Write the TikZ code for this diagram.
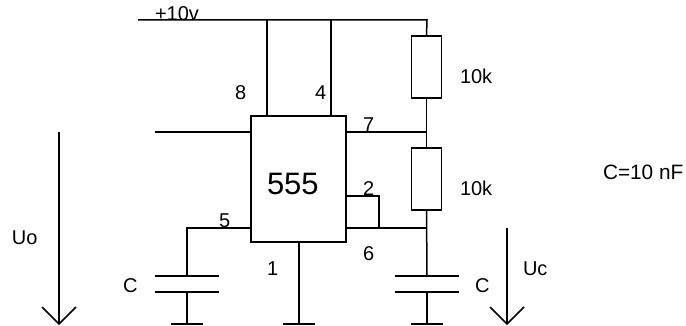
\documentclass[tikz,border=0pt]{standalone}
\usepackage{fontspec}
\setmainfont{Liberation Sans}
\tikzset{
  wire/.style={line width=1.5pt,line cap=butt},
  chip/.style={draw,line width=1.5pt,minimum width=95pt,minimum height=126pt,inner sep=0pt,outer sep=0pt,anchor=north west},
  resistor/.style={draw,line width=1.5pt,minimum width=30pt,minimum height=62pt,inner sep=0pt,outer sep=0pt},
  lbl/.style={anchor=base west,inner sep=0pt,outer sep=0pt,font=\fontsize{20pt}{22pt}\selectfont},
  widelbl/.style={anchor=base west,inner sep=0pt,outer sep=0pt,font=\fontsize{20.8pt}{22pt}\selectfont},
  biglbl/.style={anchor=base west,inner sep=0pt,outer sep=0pt,font=\fontsize{31pt}{33pt}\selectfont},
  volt/.style={line width=1.5pt},
}
\begin{document}
\begin{tikzpicture}[x=1pt,y=-1pt]
\useasboundingbox (0,0) rectangle (686,326);
% components
\node[chip] (ic) at (251,116) {};
\node[resistor] (r1) at (426.5,67) {};
\node[resistor] (r2) at (426.5,179) {};
% junctions and free ends
\coordinate (railL) at (138,20);
\coordinate (railR) at (427,20);
\coordinate (pin8top) at (267,20);
\coordinate (pin4top) at (331,20);
\coordinate (pin8) at (267,116);
\coordinate (pin4) at (331,116);
\coordinate (inL) at (155,132);
\coordinate (inR) at (251,132);
\coordinate (j7) at (427,132);
\coordinate (o7) at (346,132);
\coordinate (j6) at (427,228);
\coordinate (o6) at (346,228);
\coordinate (o2) at (346,196);
\coordinate (c2) at (379,196);
\coordinate (j2) at (379,228);
\coordinate (o5) at (251,228);
\coordinate (c5) at (187,228);
\coordinate (p1a) at (155,276);
\coordinate (p1b) at (219,276);
\coordinate (p1c) at (155,292);
\coordinate (p1d) at (219,292);
\coordinate (t1) at (187,276);
\coordinate (b1) at (187,292);
\coordinate (g1) at (187,324);
\coordinate (g1a) at (171,324);
\coordinate (g1b) at (203,324);
\coordinate (o1) at (299,242);
\coordinate (g2) at (299,324);
\coordinate (g2a) at (283,324);
\coordinate (g2b) at (315,324);
\coordinate (p2a) at (395,276);
\coordinate (p2b) at (459,276);
\coordinate (p2c) at (395,292);
\coordinate (p2d) at (459,292);
\coordinate (t2) at (427,276);
\coordinate (b2) at (427,292);
\coordinate (g3) at (427,324);
\coordinate (g3a) at (411,324);
\coordinate (g3b) at (443,324);
\coordinate (uoT) at (59,132);
\coordinate (uoB) at (59,324);
\coordinate (uoL) at (42,307);
\coordinate (uoR) at (76,307);
\coordinate (ucT) at (507,228);
\coordinate (ucB) at (507,324);
\coordinate (ucL) at (490,307);
\coordinate (ucR) at (524,307);
% labels
\node[lbl] (tv) at (155,21) {+10v};
\node[lbl] (t8) at (235,100) {8};
\node[lbl] (t4) at (315,100) {4};
\node[lbl] (t7) at (363,132) {7};
\node[lbl] (t2l) at (363,196) {2};
\node[lbl] (t6) at (363,260) {6};
\node[lbl] (t5) at (219,228) {5};
\node[lbl] (t1l) at (267,276) {1};
\node[biglbl] (tic) at (267,195) {555};
\node[lbl] (tr1) at (460,84) {10k};
\node[lbl] (tr2) at (460,196) {10k};
\node[lbl] (tuo) at (12,244) {Uo};
\node[lbl] (tc1) at (123,292) {C};
\node[lbl] (tc2) at (475,292) {C};
\node[lbl] (tuc) at (523,276) {Uc};
\node[widelbl] (tcv) at (603,180) {C=10 nF};
% wiring
\draw[wire,line join=miter] (railL) -- (railR) -- (r1.north);
\draw[wire] (pin8top) -- (pin8);
\draw[wire] (pin4top) -- (pin4);
\draw[wire] (r1.south) -- (r2.north);
\draw[wire] (inL) -- (inR);
\draw[wire] (o7) -- (j7);
\draw[wire] (r2.south) -- (t2);
\draw[wire] (o6) -- (j6);
\draw[wire] (o2) -- (c2) -- (j2);
\draw[wire] (o5) -- (c5) -- (t1);
\draw[wire] (p1a) -- (p1b);
\draw[wire] (p1c) -- (p1d);
\draw[wire] (b1) -- (g1);
\draw[wire] (g1a) -- (g1b);
\draw[wire] (o1) -- (g2);
\draw[wire] (g2a) -- (g2b);
\draw[wire] (p2a) -- (p2b);
\draw[wire] (p2c) -- (p2d);
\draw[wire] (b2) -- (g3);
\draw[wire] (g3a) -- (g3b);
% voltage arrows
\draw[volt] (uoT) -- (uoB);
\draw[volt] (uoL) -- (uoB) -- (uoR);
\draw[volt] (ucT) -- (ucB);
\draw[volt] (ucL) -- (ucB) -- (ucR);
\end{tikzpicture}
\end{document}
